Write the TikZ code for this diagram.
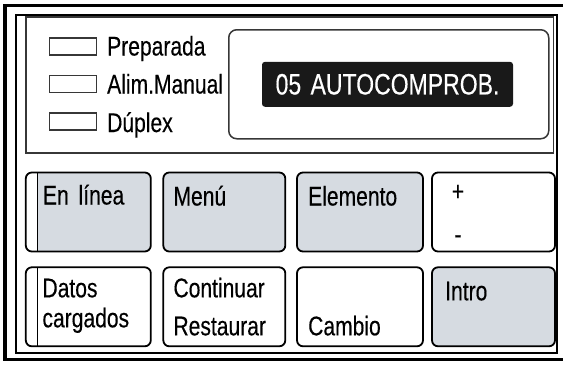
\documentclass[tikz,border=0pt]{standalone}
\usepackage{fontspec}
\setmainfont{Liberation Sans}[FakeStretch=0.78,FakeBold=0.3]
\usetikzlibrary{positioning,backgrounds}
\definecolor{keygrey}{RGB}{214,219,225}
\definecolor{edgegrey}{RGB}{55,55,55}

\begin{document}
\begin{tikzpicture}[x=1pt,y=-1pt,
  font=\fontsize{27}{32}\selectfont,
  ledbox/.style={draw=edgegrey,line width=1.3pt,minimum width=47pt,minimum height=17pt,inner sep=0,outer sep=0,anchor=west},
  keybox/.style={draw,line width=1.8pt,rounded corners=6pt,minimum height=79pt,inner sep=0,outer sep=0,anchor=north west},
  keytext/.style={anchor=base west,inner sep=0}]

\useasboundingbox (0,0) rectangle (563,365);
\clip (0,0) rectangle (563,365);

\draw[line width=3.4pt] (5,5.5) rectangle (570,359.5);
\draw[line width=2.4pt] (15.8,14.8) rectangle (557,353);
\draw[edgegrey,line width=1.6pt] (26,16.8) rectangle (553.5,152.7);

\node[ledbox] (led1) at (49.3,46.5) {};
\node[ledbox] (led2) at ([yshift=-37.5pt]led1.west) {};
\node[ledbox] (led3) at ([yshift=-37.5pt]led2.west) {};
\node[keytext] (prep) at (107,55.5) {Preparada};
\node[keytext] (alim) at (107,93.5) {Alim.Manual};
\node[keytext] (dupl) at (107,132) {Dúplex};

\node[draw=edgegrey,line width=1.5pt,rounded corners=8pt,minimum width=320pt,minimum height=109pt,inner sep=0,anchor=north west] (disp) at (228,29) {};
\node[fill=black!90,text=white,rounded corners=3pt,minimum width=251pt,minimum height=45pt,inner sep=0,font=\fontsize{29.5}{35}\selectfont] (lcd) at (387.5,84.3) {05\hspace{3pt} AUTOCOMPROB.};

\node[keybox,minimum width=125pt] (enlinea) at (25.8,172.5) {};
\node[keybox,minimum width=122pt,fill=keygrey] (menu) at (163.3,172.5) {};
\node[keybox,minimum width=126pt,fill=keygrey] (elemento) at (297,172.5) {};
\node[keybox,minimum width=123pt] (masmenos) at (432,172.5) {};

\node[keybox,minimum width=125pt] (datos) at (25.8,267.3) {};
\node[keybox,minimum width=122pt] (continuar) at (163.3,267.3) {};
\node[keybox,minimum width=126pt] (cambio) at (297,267.3) {};
\node[keybox,minimum width=123pt,fill=keygrey] (intro) at (432,267.3) {};

\begin{scope}[on background layer]
\fill[keygrey] ([xshift=11.5pt]enlinea.north west) rectangle ([xshift=-10pt]enlinea.south east);
\fill[keygrey,rounded corners=6pt] ([xshift=20pt]enlinea.north west) rectangle (enlinea.south east);
\end{scope}
\draw[line width=1.2pt] ([xshift=11.5pt]enlinea.north west) -- ([xshift=11.5pt]enlinea.south west);
\draw[line width=1.2pt] ([xshift=11.5pt]datos.north west) -- ([xshift=11.5pt]datos.south west);

\node[keytext] (enltxt) at ([xshift=17pt,yshift=-32pt]enlinea.north west) {En\hspace{4pt} línea};
\node[keytext] (menutxt) at ([xshift=10pt,yshift=-33pt]menu.north west) {Menú};
\node[keytext] (elemtxt) at ([xshift=11pt,yshift=-33pt]elemento.north west) {Elemento};
\node[anchor=base,inner sep=0] (mas) at ([xshift=26pt,yshift=-28pt]masmenos.north west) {+};
\node[anchor=base,inner sep=0] (menos) at ([yshift=-43pt]mas.base) {-};

\node[keytext] (datostxt) at ([xshift=16.5pt,yshift=-30pt]datos.north west) {Datos};
\node[keytext] (cargtxt) at ([yshift=-30pt]datostxt.base west) {cargados};
\node[keytext] (conttxt) at ([xshift=10pt,yshift=-30pt]continuar.north west) {Continuar};
\node[keytext] (resttxt) at ([yshift=-38pt]conttxt.base west) {Restaurar};
\node[keytext] (cambtxt) at ([xshift=11pt,yshift=-68pt]cambio.north west) {Cambio};
\node[keytext] (introtxt) at ([xshift=13pt,yshift=-33pt]intro.north west) {Intro};

\end{tikzpicture}
\end{document}
